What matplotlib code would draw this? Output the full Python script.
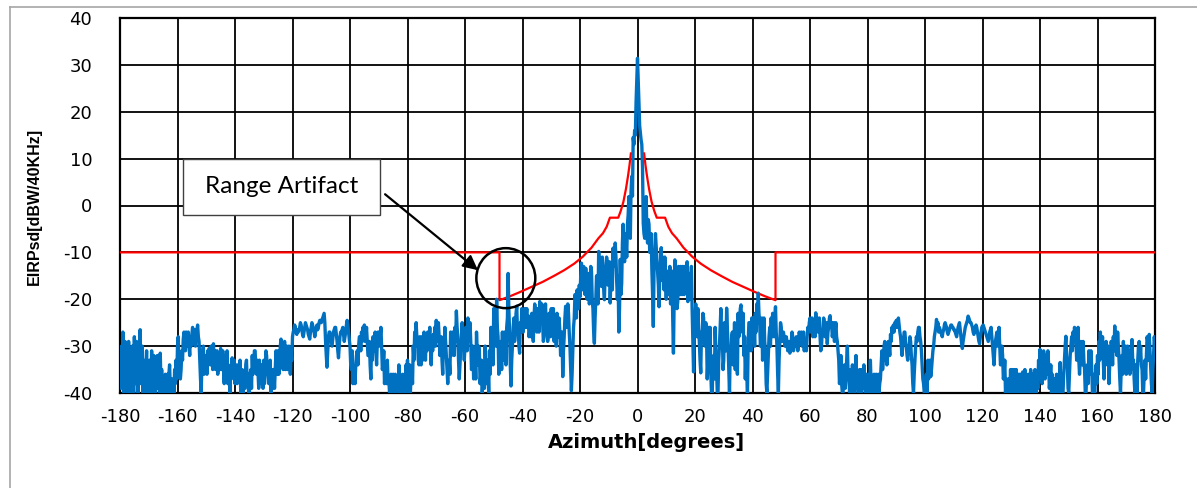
import numpy as np
import matplotlib
matplotlib.use("Agg")
import matplotlib.pyplot as plt
from matplotlib.patches import Ellipse, Rectangle
from matplotlib.lines import Line2D

plt.rcParams["axes.unicode_minus"] = False
plt.rcParams["font.family"] = ["DejaVu Sans"]

# ---- measured EIRP spectral density versus azimuth, 0.25 degree steps ----
# -180 .. -20.25 (each row spans 5 degrees)
eirp_left = [
    -33, -39, -30, -37, -27, -40, -35, -29, -38, -40, -31, -38, -29, -40, -36, -31, -40, -30, -33, -40,
    -28, -38, -34, -29, -37, -40, -30, -36, -26.5, -38, -33, -30, -40, -33, -37, -40, -35, -31, -39, -34,
    -40, -33, -36, -40, -31, -38, -34, -32, -38, -40, -33, -37, -32, -39, -37, -40, -31.5, -38, -35, -40,
    -37, -40, -39, -36, -40, -40, -36, -40, -36, -34, -39, -37, -40, -40, -37, -40, -35, -38, -33, -37,
    -30, -28, -34, -36, -37, -35, -31, -33, -28.5, -27, -30, -31, -27, -30, -29, -27, -30, -32, -28, -30,
    -27.5, -26, -29.5, -28, -26.5, -30, -28, -26.5, -25.5, -28, -29, -33, -37, -40, -33, -31, -30, -36, -35, -32,
    -33, -36, -31, -34, -30.5, -33, -34, -30, -32, -35, -29.5, -33, -31, -35, -33, -31, -36, -33, -32, -35,
    -30.5, -35, -34, -31, -35, -38, -32, -36, -34, -31, -38, -35, -37, -40, -34, -37, -32.5, -35, -36, -33,
    -38, -34, -35, -38, -34, -37, -37, -33, -40, -36, -35, -40, -36, -39, -39, -34, -33, -38, -36, -40,
    -40, -36, -35, -39, -32, -36, -34, -31, -31, -35, -36, -33, -35.5, -39, -33, -37, -38, -34, -35, -39,
    -33, -38, -36, -31, -32, -36, -34, -38, -36, -33, -40, -36, -39, -35, -35, -39, -35, -31, -33, -36,
    -31, -36, -34, -30, -28.5, -33, -31, -35, -32, -29, -35, -31, -30, -35, -33, -30, -34, -36, -31, -33,
    -28, -27, -26.5, -25.5, -26, -27, -27.5, -26.5, -27, -26.5, -26, -25, -25.5, -26.5, -27.5, -28, -27, -26, -25, -25.5,
    -26, -26.5, -27.5, -28, -28.5, -27, -26, -25, -25.5, -26.5, -27, -28, -27, -26, -25.5, -26.5, -26, -25, -24.5, -24.5,
    -25, -24.5, -24, -23.5, -23, -25, -29, -32, -34.5, -31, -28, -27, -27, -28, -29, -30, -28.5, -27, -26.5, -26,
    -26, -27.5, -29, -31, -32.5, -30, -28, -27, -27, -26.5, -26, -27.5, -29, -28, -27, -25.5, -24.5, -25.5, -27, -28.5,
    -30, -34, -35, -31, -38, -36, -36, -38, -34, -32, -31, -34, -30, -28, -28, -31, -27, -29, -26, -28,
    -25.5, -29, -28, -26, -29, -32, -32, -29, -34, -37, -30, -33, -28, -31, -30, -27, -31, -34, -29, -27,
    -27, -30, -28, -26, -30, -35, -34, -31, -38, -35, -35, -38, -33, -38, -37, -40, -40, -36, -38, -40,
    -36, -40, -40, -36, -40, -40, -37, -40, -34, -38, -38, -40, -40, -36, -37, -40, -36, -40, -34, -38,
    -33, -40, -37, -34, -40, -36, -35, -38, -30, -33, -27, -30, -25, -28, -29, -33, -34, -28, -31, -34,
    -28, -33, -31, -27, -30, -33, -28, -31, -27, -30, -29, -26, -31, -34, -28, -31, -27.5, -29, -26, -30,
    -24.5, -29, -27, -25, -28, -32, -31, -28, -33, -36, -29, -31, -26, -29, -32, -35, -38, -34, -33, -36,
    -27, -32, -30, -27, -29, -32, -26, -29, -22.5, -26, -28, -33, -37, -34, -31, -28, -25, -30, -28, -33,
    -30, -26, -27, -31, -24, -29, -27, -25, -29, -35, -34, -30, -37, -33, -32, -37, -27, -31, -34, -30,
    -31, -38, -36, -33, -40, -36, -34, -39, -30, -35, -38, -33, -35, -40, -31, -36, -26, -31, -29, -34,
    -22, -27, -26, -30, -20, -26, -28, -36, -34, -29, -30, -35, -27, -33, -32, -27, -30, -34, -26, -24,
    -14.5, -22, -27, -34, -38.5, -33, -30, -26, -24, -29, -27, -23, -21.5, -27, -26, -30, -31.5, -25, -27, -22,
    -23, -27, -25, -22, -26, -24, -22, -26, -23.5, -28, -27, -24, -28, -23, -25, -29, -24, -21, -22.5, -26,
    -27, -22, -24, -27, -20.5, -25, -23, -21, -25, -29, -28, -24, -21, -26, -24, -29, -27, -23, -25, -28,
    -22, -27, -26, -22, -29, -24, -25, -30, -23, -27, -28, -24, -27, -32, -31, -27, -36.5, -31, -28, -24,
    -21.5, -26, -25, -21, -23, -27, -30, -35, -39.5, -36, -31, -26, -24, -19, -20, -24, -18, -21, -22, -17,
]
# -20 .. 19.75, main lobe
eirp_core = [
    -19.5, -15, -12.3, -17, -18, -13, -15, -19, -13.4, -18, -20, -16, -14.5, -21, -19, -13, -14, -20, -22, -27,
    -29.4, -24, -20, -15, -16, -21, -9.8, -13, -12, -16, -17.3, -11, -13, -18, -20.1, -14, -15, -11, -12.3, -17,
    -16, -12, -20.8, -15, -14, -18, -9.1, -13, -12, -8, -10.9, -16, -20, -15, -27, -22, -11.5, -19, -16.6, -8,
    -4, -9, -12, -6, -7.4, -11, -4, -2, 1.9, -4, -7, 3, 6.2, 2, 14.5, 13, 16, 15, 22, 27,
    31.4, 27, 22, 17, 15.5, 14, 13, 8, -3.8, -6, -7, -2, 1.9, -5, -8, -3, -4, -10, -9, -6,
    -13.7, -19, -25.8, -14, -9.5, -6, -8.8, -12, -14, -17, -21.6, -15, -12, -9, -16, -11, -13, -18, -11, -16,
    -20, -15, -14, -19, -18, -13, -21, -16, -14, -24, -31.5, -20, -11.6, -15, -17, -22, -20.5, -13, -15, -19,
    -13, -17, -19, -13, -14.5, -19, -13, -17, -16, -12, -20.5, -16, -14.5, -20, -17, -13, -22, -29, -35.5, -28,
]
# 20 .. 180
eirp_right = [
    -26, -21, -24, -28, -22, -26, -29, -33, -35.7, -27, -28, -23, -24, -29, -30, -25, -27, -37, -33, -26,
    -31, -26, -36, -40, -40, -33, -32, -37, -26, -31, -35, -40, -40, -33, -30, -26, -22, -29, -27, -35,
    -33, -25, -27, -31, -21.9, -26, -30, -35, -40, -31, -33, -28, -27, -34, -31, -25, -35, -31, -29, -36,
    -23, -28, -26, -22, -21.2, -26, -27, -23, -32, -28, -37, -31, -35.5, -40, -29, -25, -25, -30, -31, -24,
    -29, -24, -26, -30, -23, -27, -21, -25, -18.7, -23, -25, -30, -28, -24, -33, -27, -24, -29, -31, -38,
    -40, -36, -32, -28, -26, -30, -24, -28, -23, -26, -28, -24, -21.6, -27, -30, -36, -40, -33, -29, -25,
    -26, -29, -28, -27, -28, -30, -30, -28, -29, -31, -31, -29, -31.5, -30, -29, -27, -28, -31, -30, -29,
    -30, -28, -29, -31, -29.5, -27, -28, -29, -27, -30, -29, -27, -31, -29, -30, -31, -28, -26, -27, -25,
    -24, -27, -26, -24, -28, -26, -25, -28, -22.9, -25, -24, -27, -26, -24, -28, -31, -30, -27, -27, -24,
    -25, -28, -27, -25, -29.5, -27, -26, -24, -23.5, -26, -25, -28, -27, -25, -29, -27, -25, -28, -29, -31,
    -33, -38, -36, -32, -38, -40, -40, -35, -34, -39, -37, -33, -30, -36, -35, -40, -40, -35, -38, -34,
    -37, -40, -40, -35, -32, -38, -36, -40, -40, -35, -38, -40, -35, -39, -38, -34, -39, -40, -40, -36,
    -40, -37, -36, -40, -33, -38, -37, -40, -40, -36, -38, -40, -36, -40, -40, -36, -40, -38, -37, -34,
    -31, -35, -33, -30, -29, -33, -31, -34, -32, -29, -30, -32, -27.5, -29, -26, -27, -25.5, -27, -25, -26,
    -24.5, -26, -25, -24, -25.5, -27, -28, -30, -32, -30, -29, -27, -27, -29, -30, -32, -33, -30, -31, -28,
    -29, -32, -34, -38, -40, -36, -33, -30, -28, -29, -27, -26, -26, -28, -29, -31, -34, -37, -38, -40,
    -40, -38, -36, -40, -33, -37, -35, -33, -36.5, -35, -33, -31, -30, -28, -27, -26, -24.3, -26, -25, -27,
    -26, -26.5, -27, -27.5, -28, -27, -26.5, -25.5, -25, -25.5, -26, -27, -27.5, -27, -26.5, -26, -25.5, -25.5, -26, -26,
    -26.5, -26.5, -27, -27.5, -28, -27, -26, -25.5, -25, -26.5, -28, -29.5, -30.5, -29, -28, -27, -26, -25.5, -25, -24.5,
    -23.6, -24, -24.5, -25, -25, -25.5, -26, -27, -27.5, -27, -26, -25.5, -26, -27, -28, -29, -29.5, -28, -27, -26,
    -25.7, -25.5, -26, -26.5, -27, -27.5, -28, -28.5, -29, -28, -27, -26.5, -26, -28, -30, -32, -34, -31, -29, -28,
    -27, -30, -28, -26, -30, -34, -33, -30, -32, -37, -36, -33, -40, -37, -38, -40, -37, -40, -40, -35,
    -40, -35, -37, -40, -35, -39, -38, -35, -40, -37, -36, -40, -36, -39, -40, -36, -35.5, -40, -38, -35,
    -40, -36, -38, -40, -36, -40, -40, -35, -38.5, -40, -36, -39, -40, -35, -37, -40, -36, -39, -33, -37,
    -30.7, -36, -33, -38, -35, -31, -32, -37, -32, -36, -35, -31, -34, -39, -37, -34, -40, -36, -38, -40,
    -37, -40, -40, -36, -40, -37, -36, -40, -33.5, -38, -37, -40, -40, -36, -33, -30, -27.9, -32, -34, -39,
    -40, -36, -32, -30, -28, -31, -27, -29, -26, -28, -29, -33, -29, -26, -33, -36, -33, -29, -30, -34,
    -29, -33, -35, -40, -40, -36, -34, -38, -31, -36, -36, -31, -35, -40, -40, -36, -40, -37, -34, -38,
    -32, -36, -29, -33, -27, -32, -31, -28, -33, -37, -30, -34, -29, -33, -34, -30, -38, -34, -33, -29,
    -30, -34, -28, -31, -25.7, -30, -28, -32, -27, -30, -33, -37, -40, -35, -32, -36, -29, -33, -34, -30,
    -36, -32, -30, -35, -31, -36, -35, -31, -28.6, -33, -33, -37, -40, -34, -36, -40, -33, -30, -29, -33,
    -30, -34, -35, -40, -40, -36, -33, -37, -32, -28, -29, -33, -27.5, -31, -34, -38, -40, -35, -32, -28,
    -30,
]
azimuth = np.arange(-180, 180.25, 0.25)
eirp = np.concatenate([eirp_left, eirp_core, eirp_right])

# ---- off-axis EIRP density mask (symmetric in |azimuth|) ----
mask_theta = [2.3, 2.8, 3.3, 4.0, 4.9, 5.8, 6.7, 9.6, 10.7, 12.0, 13.6, 16.0,
              19.0, 22.0, 25.5, 29.0, 33.0, 37.0, 41.0, 44.5, 48.0, 48.0, 180.0]
mask_level = [11.1, 8.5, 6.3, 3.6, 0.8, -1.1, -2.6, -2.6, -4.5, -5.9, -7.0, -9.0,
              -10.9, -12.4, -13.8, -15.0, -16.3, -17.4, -18.5, -19.4, -20.2, -10.0, -10.0]

th = np.asarray(mask_theta)
lv = np.asarray(mask_level)
mask_az = np.concatenate([-th[::-1], [np.nan], th])
mask_lv = np.concatenate([lv[::-1], [np.nan], lv])

W, H = 1197, 488
fig = plt.figure(figsize=(W / 100, H / 100), dpi=100)
fig.patch.set_facecolor("white")

# chart-area frame
frame_col = "#a6a6a6"
fig.add_artist(Line2D([9.5 / W, 9.5 / W], [0, 1 - 6.5 / H], color=frame_col, lw=1.2))
fig.add_artist(Line2D([9.5 / W, 1], [1 - 6.5 / H, 1 - 6.5 / H], color=frame_col, lw=1.2))

ax = fig.add_axes([120 / W, 1 - 393 / H, (1155 - 120) / W, (393 - 18) / H])
ax.set_xlim(-180, 180)
ax.set_ylim(-40, 40)
ax.set_xticks(np.arange(-180, 181, 20))
ax.set_yticks(np.arange(-40, 41, 10))
ax.set_axisbelow(True)
ax.grid(True, color="black", lw=1.3)
for sp in ax.spines.values():
    sp.set_color("black")
    sp.set_linewidth(1.6)
ax.tick_params(axis="both", length=0, labelsize=13, labelcolor="black")
ax.tick_params(axis="y", pad=20)
ax.tick_params(axis="x", pad=11)

ax.plot(mask_az, mask_lv, color="#ff0000", lw=1.6, zorder=3)
ax.plot(azimuth, eirp, color="#0070c0", lw=2.4, solid_joinstyle="round", zorder=4)

# annotation: text box, arrow and circle around the artifact
ax.add_patch(Rectangle((-158.1, -2.0), 68.5, 11.9, facecolor="white",
                       edgecolor="#404040", lw=1.0, zorder=6))
ax.text(-123.85, 4.1, "Range Artifact", ha="center", va="center",
        fontsize=17.5, family=["Lato", "DejaVu Sans"], zorder=7)
ax.annotate("", xy=(-55.5, -13.8), xytext=(-87.8, 2.4),
            arrowprops=dict(arrowstyle="-|>", color="black", lw=1.6,
                            mutation_scale=22, shrinkA=0, shrinkB=0),
            zorder=7)
ax.add_patch(Ellipse((-45.8, -15.5), 20.5, 12.8, facecolor="none",
                     edgecolor="black", lw=1.8, zorder=7))

fig.text(646 / W, 1 - 443 / H, "Azimuth[degrees]", ha="center", va="center",
         fontsize=14, fontweight="bold")
fig.text(34 / W, 1 - 206 / H, "EIRPsd[dBW/40KHz]", ha="center", va="center",
         rotation=90, fontsize=11.5, fontweight="bold",
         family=["Liberation Sans", "DejaVu Sans"])

fig.savefig("out.png", dpi=100)
